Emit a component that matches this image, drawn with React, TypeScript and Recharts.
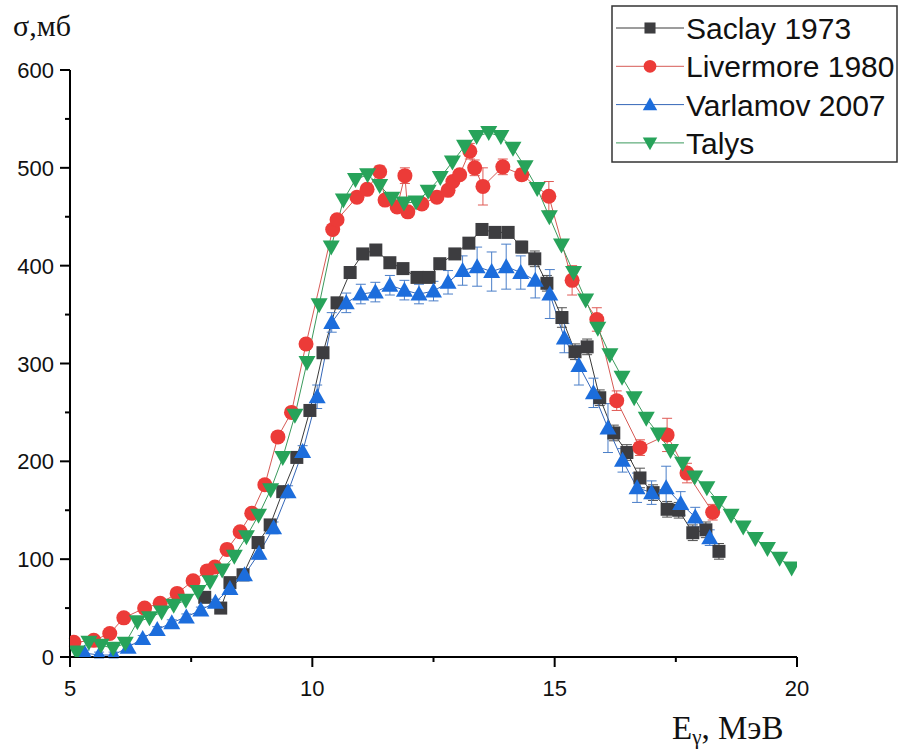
import React from 'react';
import { LineChart, Line, XAxis, YAxis, ErrorBar } from 'recharts';

// ---- Data (E in MeV, sigma in mb) ----
const saclayE = [7.78, 8.11, 8.3, 8.57, 8.88, 9.13, 9.39, 9.68, 9.95, 10.22, 10.51, 10.78, 11.04, 11.31, 11.6, 11.87, 12.16, 12.41, 12.63, 12.94, 13.23, 13.5, 13.77, 14.04, 14.32, 14.59, 14.84, 15.15, 15.42, 15.67, 15.93, 16.22, 16.49, 16.76, 17.03, 17.32, 17.56, 17.85, 18.12, 18.39];
const saclayV = [61, 50, 76, 84, 117, 135, 169, 204, 252, 311, 362, 393, 412, 416, 403, 397, 388, 388, 402, 412, 423, 437, 434, 434, 419, 407, 382, 347, 312, 317, 265, 229, 209, 183, 168, 151, 150, 127, 130, 108];
const saclayErr = [5, 5, 5, 5, 5, 5, 5, 5, 5, 5, 5, 5, 5, 5, 5, 5, 5, 5, 5, 5, 5, 5, 5, 5, 6, 8, 8, 10, 8, 8, 8, 8, 8, 10, 8, 8, 8, 8, 8, 8];

const livE = [5.08, 5.49, 5.82, 6.11, 6.54, 6.86, 7.21, 7.54, 7.83, 7.99, 8.24, 8.51, 8.75, 9.02, 9.29, 9.57, 9.87, 10.42, 10.51, 10.92, 11.13, 11.39, 11.5, 11.75, 11.91, 11.97, 12.26, 12.57, 12.8, 12.9, 13.04, 13.25, 13.35, 13.52, 13.93, 14.32, 14.88, 15.36, 15.87, 16.28, 16.76, 17.32, 17.73, 18.26];
const livV = [15, 17, 24, 40, 50, 55, 65, 78, 88, 92, 110, 128, 147, 176, 225, 250, 320, 437, 447, 470, 478, 496, 467, 460, 492, 455, 463, 470, 477, 486, 493, 517, 500, 481, 501, 493, 471, 385, 345, 262, 214, 227, 188, 148];
const livErr = [4, 4, 4, 4, 4, 4, 4, 4, 4, 4, 4, 4, 4, 5, 5, 5, 5, 5, 5, 5, 5, 6, 5, 5, 8, 5, 5, 5, 5, 5, 5, 8, 8, 19, 8, 6, 15, 15, 12, 10, 8, 17, 10, 8];

const varE = [5.3, 5.6, 5.9, 6.2, 6.5, 6.8, 7.1, 7.4, 7.7, 8.0, 8.3, 8.6, 8.9, 9.2, 9.5, 9.8, 10.1, 10.4, 10.7, 11.0, 11.3, 11.6, 11.9, 12.2, 12.5, 12.8, 13.1, 13.4, 13.7, 14.0, 14.3, 14.6, 14.9, 15.2, 15.5, 15.8, 16.1, 16.4, 16.7, 17.0, 17.3, 17.6, 17.9, 18.2];
const varV = [4, 2, 2, 10, 19, 28, 35, 41, 48, 56, 70, 84, 106, 132, 169, 210, 266, 342, 362, 371, 373, 380, 375, 371, 374, 383, 395, 399, 394, 399, 393, 385, 371, 326, 298, 270, 234, 201, 173, 168, 173, 157, 143, 122];
const varErr = [3, 3, 3, 3, 3, 3, 3, 3, 3, 3, 6, 6, 6, 6, 6, 6, 12, 10, 10, 10, 10, 10, 10, 10, 10, 12, 15, 20, 20, 23, 17, 18, 25, 15, 20, 15, 25, 12, 15, 12, 22, 12, 10, 8];

const talysE = [5.14, 5.39, 5.64, 5.89, 6.14, 6.39, 6.64, 6.89, 7.14, 7.39, 7.64, 7.89, 8.14, 8.39, 8.64, 8.89, 9.14, 9.39, 9.64, 9.89, 10.14, 10.39, 10.64, 10.89, 11.14, 11.39, 11.64, 11.89, 12.14, 12.39, 12.64, 12.89, 13.14, 13.39, 13.64, 13.89, 14.14, 14.39, 14.64, 14.89, 15.14, 15.39, 15.64, 15.89, 16.14, 16.39, 16.64, 16.89, 17.14, 17.39, 17.64, 17.89, 18.14, 18.39, 18.64, 18.89, 19.14, 19.39, 19.64, 19.89];
const talysV = [5, 15, 12, 9, 14, 36, 40, 46, 53, 58, 67, 77, 89, 103, 123, 145, 171, 204, 247, 301, 360, 419, 467, 488, 493, 482, 469, 464, 465, 476, 490, 506, 522, 532, 536, 532, 520, 501, 479, 450, 421, 393, 365, 336, 309, 286, 265, 244, 228, 211, 198, 184, 173, 158, 145, 133, 121, 111, 101, 91];

const xTicks = [5, 7.5, 10, 12.5, 15, 17.5, 20];
const yTicks = [0, 50, 100, 150, 200, 250, 300, 350, 400, 450, 500, 550, 600];
const seriesNames = ['Saclay 1973', 'Livermore 1980', 'Varlamov 2007', 'Talys'];

type Pt = { e: number; v: number; err: number };
const build = (es: number[], vs: number[], errs?: number[]): Pt[] =>
  es.map((e, i) => ({ e, v: vs[i], err: errs ? (errs[i] ?? 5) : 0 }));

const saclayData = build(saclayE, saclayV, saclayErr);
const livData = build(livE, livV, livErr);
const varData = build(varE, varV, varErr);
const talysData = build(talysE, talysV);

const C = {
  sq: '#3d3d40', sqLine: '#3a3a3a',
  ci: '#ec3b38', ciLine: '#d65a55',
  up: '#1c6ddc', upLine: '#3366b8',
  dn: '#27a35a', dnLine: '#3b9a5c',
};

type Kind = 'sq' | 'ci' | 'up' | 'dn';
function Marker({ kind, cx, cy, s = 1 }: { kind: Kind; cx: number; cy: number; s?: number }) {
  if (cx == null || cy == null || isNaN(cx) || isNaN(cy)) return <g />;
  if (kind === 'sq') {
    const h = 6.5 * s;
    return <rect x={cx - h} y={cy - h} width={2 * h} height={2 * h} fill={C.sq} />;
  }
  if (kind === 'ci') return <circle cx={cx} cy={cy} r={7.5 * s} fill={C.ci} />;
  if (kind === 'up') {
    const w = 8.5 * s, t = 8.5 * s, b = 6.5 * s;
    return <polygon points={`${cx},${cy - t} ${cx - w},${cy + b} ${cx + w},${cy + b}`} fill={C.up} />;
  }
  const w = 8.5 * s, t = 6.5 * s, b = 8.5 * s;
  return <polygon points={`${cx - w},${cy - t} ${cx + w},${cy - t} ${cx},${cy + b}`} fill={C.dn} />;
}

const dotFor = (kind: Kind) => (p: any) => (
  <Marker key={`${kind}-${p.index}`} kind={kind} cx={p.cx} cy={p.cy} />
);

const FONT = '"Liberation Sans", Arial, sans-serif';
const SERIF = '"Liberation Serif", "Times New Roman", serif';

const XTick = (props: any) => {
  const { x, y, payload } = props;
  const v = payload.value;
  const major = v % 5 === 0;
  return (
    <g>
      <line x1={x} y1={y} x2={x} y2={y + (major ? 10 : 5)} stroke="#000" strokeWidth={2} />
      {major && (
        <text x={x} y={y + 39} textAnchor="middle" fontFamily={FONT} fontSize={22} fill="#111">{v}</text>
      )}
    </g>
  );
};

const YTick = (props: any) => {
  const { x, y, payload } = props;
  const v = payload.value;
  const major = v % 100 === 0;
  return (
    <g>
      <line x1={x} y1={y} x2={x - (major ? 10 : 5)} y2={y} stroke="#000" strokeWidth={2} />
      {major && (
        <text x={x - 16} y={y + 8} textAnchor="end" fontFamily={FONT} fontSize={22} fill="#111">{v}</text>
      )}
    </g>
  );
};

const legendRows: { name: string; kind: Kind; line: string }[] = [
  { name: seriesNames[0], kind: 'sq', line: C.sqLine },
  { name: seriesNames[1], kind: 'ci', line: C.ciLine },
  { name: seriesNames[2], kind: 'up', line: C.upLine },
  { name: seriesNames[3], kind: 'dn', line: C.dnLine },
];

export default function App() {
  return (
    <div style={{ position: 'absolute', left: 0, top: 0, width: 901, height: 754, background: '#fff' }}>
      <LineChart width={901} height={754} margin={{ top: 70, right: 104, bottom: 57, left: 12 }}>
        <XAxis
          dataKey="e"
          type="number"
          domain={[5, 20]}
          ticks={xTicks}
          interval={0}
          allowDataOverflow
          height={40}
          tickSize={0}
          tickMargin={0}
          tickLine={false}
          axisLine={{ stroke: '#000', strokeWidth: 2 }}
          tick={<XTick />}
        />
        <YAxis
          type="number"
          domain={[0, 600]}
          ticks={yTicks}
          interval={0}
          allowDataOverflow
          width={58}
          tickSize={0}
          tickMargin={0}
          tickLine={false}
          axisLine={{ stroke: '#000', strokeWidth: 2 }}
          tick={<YTick />}
        />
        <Line data={saclayData} dataKey="v" name={seriesNames[0]} stroke={C.sqLine} strokeWidth={1}
          dot={dotFor('sq')} activeDot={false} isAnimationActive={false}>
          <ErrorBar dataKey="err" width={5} stroke="#505050" strokeWidth={1} direction="y" />
        </Line>
        <Line data={livData} dataKey="v" name={seriesNames[1]} stroke={C.ciLine} strokeWidth={1}
          dot={dotFor('ci')} activeDot={false} isAnimationActive={false}>
          <ErrorBar dataKey="err" width={5} stroke="#e05a55" strokeWidth={1} direction="y" />
        </Line>
        <Line data={varData} dataKey="v" name={seriesNames[2]} stroke={C.upLine} strokeWidth={1}
          dot={dotFor('up')} activeDot={false} isAnimationActive={false}>
          <ErrorBar dataKey="err" width={5} stroke="#4a7ec8" strokeWidth={1} direction="y" />
        </Line>
        <Line data={talysData} dataKey="v" name={seriesNames[3]} stroke={C.dnLine} strokeWidth={1}
          dot={dotFor('dn')} activeDot={false} isAnimationActive={false} />
      </LineChart>
      <svg width={901} height={754} style={{ position: 'absolute', left: 0, top: 0, pointerEvents: 'none' }}>
        <text x={13} y={36} fontFamily={SERIF} fontSize={30} fill="#111">σ,мб</text>
        <text x={672} y={739} fontFamily={SERIF} fontSize={33} fill="#111">
          E<tspan fontSize={21} dy={5}>γ</tspan><tspan dy={-5}>, МэВ</tspan>
        </text>
        <rect x={612} y={6} width={285} height={156} fill="#fff" stroke="#333" strokeWidth={1.5} />
        {legendRows.map((r, i) => {
          const cy = 28 + i * 38.3;
          return (
            <g key={r.name}>
              <line x1={616} y1={cy} x2={684} y2={cy} stroke={r.line} strokeWidth={1} />
              <Marker kind={r.kind} cx={650} cy={cy} s={0.85} />
              <text x={686} y={cy + 11} fontFamily={FONT} fontSize={30} fill="#111">{r.name}</text>
            </g>
          );
        })}
      </svg>
    </div>
  );
}
